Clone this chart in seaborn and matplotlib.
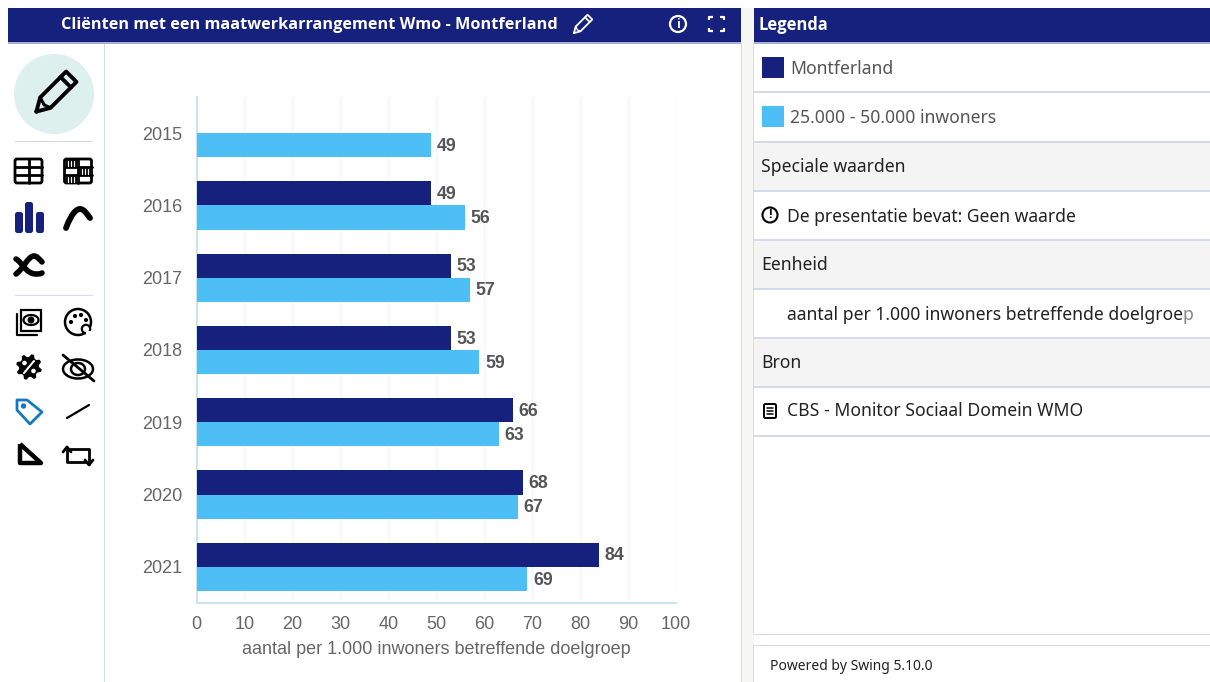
import numpy as np
import pandas as pd
import matplotlib
matplotlib.use('Agg')
import matplotlib.pyplot as plt
import seaborn as sns
from matplotlib.patches import Rectangle, Circle, Polygon, FancyBboxPatch, Arc, PathPatch
from matplotlib.path import Path

# chart data
years = ['2015', '2016', '2017', '2018', '2019', '2020', '2021']
montferland = [np.nan, 49, 53, 53, 66, 68, 84]
inwoners = [49, 56, 57, 59, 63, 67, 69]
series_names = ['Montferland', '25.000 - 50.000 inwoners']
x_ticks = [0, 10, 20, 30, 40, 50, 60, 70, 80, 90, 100]
x_title = 'aantal per 1.000 inwoners betreffende doelgroep'
title = 'Cliënten met een maatwerkarrangement Wmo - Montferland'

NAVY = '#15217c'
SKY = '#4dbef6'
LINE = '#d3dbea'
UI_FONT = 'Noto Sans'
BOLD_FONT = 'Open Sans'

sns.set_theme(style='white')
plt.rcParams['font.family'] = ['Liberation Sans', 'DejaVu Sans']

W, H = 1210, 682
fig = plt.figure(figsize=(W / 100, H / 100), dpi=100, facecolor='white')

# page layer, in pixels
ui = fig.add_axes([0, 0, 1, 1], zorder=0)
ui.set_xlim(0, W)
ui.set_ylim(H, 0)
ui.axis('off')


def rect(x, y, w, h, color, z=1, **kw):
    ui.add_patch(Rectangle((x, y), w, h, facecolor=color, edgecolor='none', zorder=z, **kw))


def line(xs, ys, color='black', lw=2.0, z=3, cap='round'):
    ui.plot(xs, ys, color=color, lw=lw, zorder=z, solid_capstyle=cap, solid_joinstyle='round')


def curve(pts, lw=4.0, color='black'):
    # cubic bezier, first point then triples
    codes = [Path.MOVETO] + [Path.CURVE4] * (len(pts) - 1)
    ui.add_patch(PathPatch(Path(pts, codes), facecolor='none', edgecolor=color, lw=lw,
                           capstyle='round', zorder=3))


def label(x, y, s, size=12.65, color='#222222', weight='normal', ha='left'):
    fam = BOLD_FONT if weight == 'bold' else UI_FONT
    ui.text(x, y + 1.5, s, fontsize=size, color=color, fontweight=weight, ha=ha, va='center',
            family=fam, zorder=4)


def pencil(cx, cy, s, color='black', lw=2.2):
    # pencil leaning right, s is half its length
    d = np.array([0.72, -0.72])
    n = np.array([0.72, 0.72])
    c = np.array([cx, cy])
    tip = c - d * s * 1.02
    a = c - d * s * 0.5
    b = c + d * s * 1.0
    w = s * 0.3
    xy = np.array([tip, a + n * w, b + n * w, b - n * w, a - n * w, tip])
    line(xy[:, 0], xy[:, 1], color, lw)
    e1 = c + d * s * 0.68
    line([e1[0] + n[0] * w, e1[0] - n[0] * w], [e1[1] + n[1] * w, e1[1] - n[1] * w], color, lw)
    line([(a + n * w)[0], (a + n * w * 0.1 - d * s * 0.1)[0], (a - n * w)[0]],
         [(a + n * w)[1], (a + n * w * 0.1 - d * s * 0.1)[1], (a - n * w)[1]], color, lw * 0.8)


def table_icon(x, y, busy=False):
    ui.add_patch(FancyBboxPatch((x, y), 27, 24, boxstyle='round,pad=0,rounding_size=2',
                                facecolor='white', edgecolor='black', lw=2.0, zorder=3))
    line([x, x + 27], [y + 8, y + 8])
    line([x, x + 27], [y + 16, y + 16])
    line([x + 13.5, x + 13.5], [y, y + 24])
    if busy:
        rect(x + 1, y + 1, 13, 7, '#111111', 3)
        rect(x + 14, y + 9, 13, 7, '#111111', 3)
        rect(x + 1, y + 17, 13, 7, '#111111', 3)
        for dx in [3, 6, 9]:
            line([x + dx, x + dx], [y + 2, y + 7], 'white', 0.8, 4)
            line([x + dx + 14, x + dx + 14], [y + 10, y + 15], 'white', 0.8, 4)
            line([x + dx, x + dx], [y + 18, y + 23], 'white', 0.8, 4)


# backgrounds of the panels
rect(0, 0, W, H, 'white', 0)
rect(741, 8, 13, H - 8, '#f7f7f3', 0.5)
rect(8, 8, 733, 34, NAVY, 2)
rect(8, 42, 733, 1.5, '#aab0d0', 2)
rect(754, 42, 456, 1.5, '#aab0d0', 2)
rect(103.5, 43, 1.5, H - 43, LINE, 1)
rect(741, 43, 1.2, H - 43, LINE, 1)
rect(753, 43, 1.2, 591, LINE, 1)

# title bar
label(309, 23.5, title, size=11.7, color='white', weight='bold', ha='center')
pencil(582, 25, 11, 'white', 1.3)
ui.add_patch(Circle((678, 24), 8, facecolor='none', edgecolor='white', lw=1.6, zorder=3))
label(678, 22.5, 'i', size=9, color='white', weight='bold', ha='center')
for sx, sy in [(709, 17), (724, 17), (709, 31), (724, 31)]:
    dx = 4 if sx < 716 else -4
    dy = 3 if sy < 24 else -3
    line([sx + dx, sx, sx], [sy, sy, sy + dy], 'white', 1.6, cap='butt')

# tools on the left
ui.add_patch(Circle((54, 94), 40, facecolor='#def0ee', edgecolor='none', zorder=2))
pencil(54, 94, 24, 'black', 2.8)
rect(15, 140.5, 78, 1.5, LINE, 2)
rect(15, 294.5, 78, 1.5, LINE, 2)
table_icon(15, 159)
table_icon(64.5, 159, busy=True)
for bx, by, bh in [(15, 212, 21), (25, 202, 31), (36, 212, 21)]:
    ui.add_patch(FancyBboxPatch((bx, by), 8, bh, boxstyle='round,pad=0,rounding_size=2.5',
                                facecolor=NAVY, edgecolor='none', zorder=3))
curve([(66, 228), (72, 212), (77, 209), (80, 209), (84, 209), (87, 214), (90, 218)], lw=4.2)
curve([(16, 274), (24, 268), (28, 256), (34, 256), (37, 256), (39, 259), (42, 262)], lw=4.0)
curve([(16, 259), (22, 262), (26, 274), (36, 274), (38, 274), (40, 274), (42, 273)], lw=4.0)
ui.add_patch(Rectangle((21, 310), 20, 21, facecolor='white', edgecolor='black', lw=1.6, zorder=3))
line([17, 17, 37], [314, 335, 335], lw=1.6)
ui.add_patch(Arc((31, 320), 15, 10, edgecolor='black', lw=1.6, zorder=4))
ui.add_patch(Circle((31, 320), 2.8, color='black', zorder=4))
ui.add_patch(Circle((78, 322), 13, facecolor='white', edgecolor='black', lw=1.8, zorder=3))
ui.add_patch(Circle((86, 329), 4.2, facecolor='white', edgecolor='black', lw=1.6, zorder=4))
rect(86, 331, 10, 8, 'white', 4)
for px, py in [(71, 322), (75, 316), (81, 315), (86, 320)]:
    ui.add_patch(Circle((px, py), 1.4, color='black', zorder=4))
# gear with a slash
ang = np.linspace(0, 2 * np.pi, 33)[:-1] + np.pi / 16
rad = np.array([13, 13, 10, 10] * 8)
ui.add_patch(Polygon(np.c_[29 + rad * np.cos(ang), 367 + rad * np.sin(ang)], closed=True,
                     facecolor='black', edgecolor='none', zorder=3))
line([24, 34], [373, 361], 'white', 1.5, 4)
ui.add_patch(Circle((24.5, 363), 1.6, color='white', zorder=4))
ui.add_patch(Circle((33.5, 371), 1.6, color='white', zorder=4))
ui.add_patch(Arc((78, 369), 30, 19, edgecolor='black', lw=1.8, zorder=3))
ui.add_patch(Arc((78, 369), 14, 12, edgecolor='black', lw=1.8, zorder=3))
line([63, 94], [355, 381], lw=2)
ui.add_patch(Polygon([[17, 400], [27, 400], [42, 412], [30, 424], [17, 410]], closed=True,
                     facecolor='white', edgecolor='#1478c0', lw=2, joinstyle='round', zorder=3))
ui.add_patch(Circle((23.5, 406), 2, color='#1478c0', zorder=4))
line([67, 89], [418, 405], lw=1.6)
line([20, 20, 41, 20], [444, 463, 463, 444], lw=3.2, cap='butt')
line([67, 67, 85], [448, 462, 462], lw=2)
line([70, 89, 89], [449, 449, 464], lw=2)
line([63, 67, 71], [452, 447, 452], lw=2)
line([85, 89, 93], [460, 465, 460], lw=2)

# legend panel
rect(754, 8, 456, 34, NAVY, 2)
label(759, 23.5, 'Legenda', size=11.9, color='white', weight='bold')
for y0, y1 in [(141, 190), (239, 288), (337, 386)]:
    rect(754, y0, 456, y1 - y0, '#f4f4f4', 1)
for yy in [91, 141, 190, 239, 288, 337, 386, 435]:
    rect(754, yy, 456, 1.5, LINE, 2)
rect(754, 633.5, 456, 1.2, LINE, 2)
rect(762, 57, 22, 21, NAVY, 3)
rect(762, 106, 22, 21, SKY, 3)
label(790, 67.5, series_names[0], color='#555555')
label(790, 116.5, series_names[1], color='#555555')
label(761, 165, 'Speciale waarden')
ui.add_patch(Circle((770, 215), 7.5, facecolor='none', edgecolor='black', lw=1.5, zorder=3))
label(770, 213, '!', size=9, color='black', weight='bold', ha='center')
label(787, 215, 'De presentatie bevat: Geen waarde', size=12.6)
label(761, 263, 'Eenheid')
label(787, 313, x_title)
rect(1184, 303, 10, 22, 'white', 5, alpha=0.45)
label(761, 361, 'Bron')
ui.add_patch(FancyBboxPatch((764, 404), 12, 14, boxstyle='round,pad=0,rounding_size=1.5',
                            facecolor='white', edgecolor='black', lw=1.4, zorder=3))
line([767, 773], [408, 408], lw=1.1)
line([767, 773], [411, 411], lw=1.1)
line([767, 773], [414, 414], lw=1.1)
label(787, 410, 'CBS - Monitor Sociaal Domein WMO')

# footer
rect(753, 645, 457, 37, 'white', 1)
rect(753, 645, 1.2, 37, LINE, 2)
rect(753, 645, 457, 1.2, LINE, 2)
label(770, 665, 'Powered by Swing 5.10.0', size=10)

# the bar chart itself, axes placed on the pixel box of the plot area
ax = fig.add_axes([196.5 / W, 1 - 603 / H, 479.5 / W, 506 / H], zorder=2)
ax.patch.set_alpha(0)
df = pd.DataFrame({'jaar': years * 2,
                   'waarde': montferland + inwoners,
                   'groep': [series_names[0]] * len(years) + [series_names[1]] * len(years)})
sns.barplot(data=df, x='waarde', y='jaar', hue='groep', order=years, hue_order=series_names,
            palette=[NAVY, SKY], width=0.667, gap=0, dodge=True, legend=False, saturation=1,
            linewidth=0, ax=ax, zorder=3)
for bars in ax.containers:
    texts = ax.bar_label(bars, fmt='%d', padding=4, fontsize=12.8, fontweight='bold', color='#555555')
    for t in texts:
        t.xyann = (t.xyann[0], t.xyann[1] - 0.8)

ax.set_xlim(0, 100)
ax.set_xticks(x_ticks)
ax.grid(axis='x', color='#f2f5fa', lw=1, zorder=0)
ax.grid(axis='y', visible=False)
sns.despine(ax=ax)
for side in ['left', 'bottom']:
    ax.spines[side].set_color('#c4e0ee')
    ax.spines[side].set_linewidth(1.3)
ax.tick_params(axis='x', length=0, pad=9.5, labelsize=13, labelcolor='#666666')
ax.tick_params(axis='y', length=0, pad=10, labelsize=13, labelcolor='#666666')
ax.set_xlabel(x_title, fontsize=13, color='#666666', labelpad=5.5)
ax.set_ylabel('')

fig.savefig('out.png', dpi=100)
